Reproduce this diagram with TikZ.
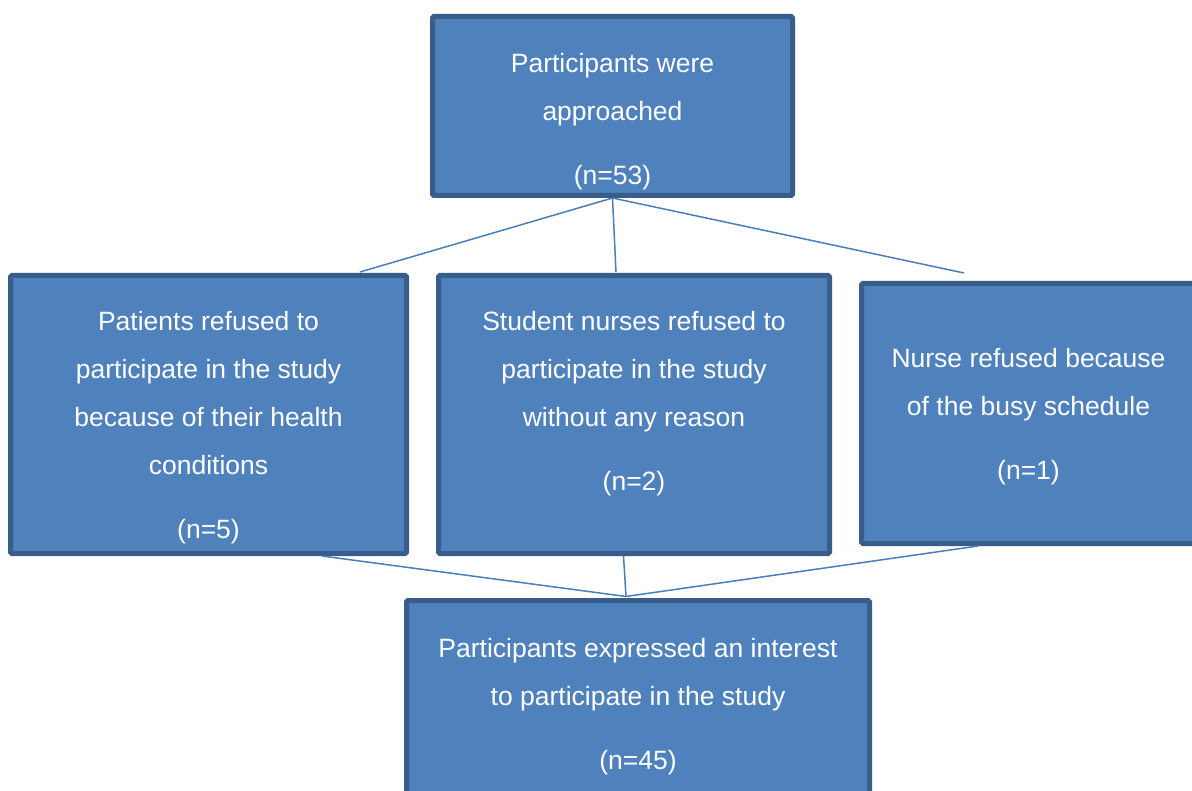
\documentclass[tikz,border=0pt]{standalone}
\usepackage{fontspec}
\setmainfont{Liberation Sans}
\definecolor{boxfill}{HTML}{4F81BD}
\definecolor{boxedge}{HTML}{385D8A}
\definecolor{linkcol}{HTML}{4A7EBB}
\tikzset{
  flowbox/.style={draw=boxedge, fill=boxfill, line width=5pt, rounded corners=1.5pt,
    inner sep=0pt, rectangle},
  boxtext/.style={anchor=north, inner sep=0pt, align=center, text=white,
    font=\fontsize{26.5}{48}\selectfont},
  link/.style={draw=linkcol, line width=1.5pt}
}
\newcommand{\firstline}{\rule{0pt}{21pt}}
\begin{document}
\begin{tikzpicture}[x=1pt, y=-1pt]
\useasboundingbox (0,0) rectangle (1192,791);
\clip (0,0) rectangle (1192,791);

% boxes
\node[flowbox, minimum width=360pt, minimum height=179pt] (top) at (612.5,106) {};
\node[flowbox, minimum width=396pt, minimum height=278pt] (left) at (208.5,414.5) {};
\node[flowbox, minimum width=391pt, minimum height=278pt] (mid) at (634,414.5) {};
\node[flowbox, minimum width=334pt, minimum height=260pt] (right) at (1028.5,413.5) {};
\node[flowbox, minimum width=463pt, minimum height=227pt] (bottom) at (638,714) {};

% texts
\node[boxtext] (ttop) at ([yshift=-37.5pt]top.north)
  {\firstline Participants were\\approached\\[16pt](n=53)};
\node[boxtext] (tleft) at ([yshift=-36.5pt]left.north)
  {\firstline Patients refused to\\participate in the study\\because of their health\\conditions\\[16pt](n=5)};
\node[boxtext] (tmid) at ([yshift=-36.5pt]mid.north)
  {\firstline Student nurses refused to\\participate in the study\\without any reason\\[16pt](n=2)};
\node[boxtext] (tright) at ([yshift=-65.5pt]right.north)
  {\firstline Nurse refused because\\of the busy schedule\\[16pt](n=1)};
\node[boxtext] (tbottom) at ([yshift=-38.5pt]bottom.north)
  {\firstline Participants expressed an interest\\to participate in the study\\[16pt](n=45)};

% connector ends
\coordinate (leftin)   at ([xshift=151.5pt,yshift=1pt]left.north);
\coordinate (midin)    at ([xshift=-18pt,yshift=1pt]mid.north);
\coordinate (rightin)  at ([xshift=-64.5pt,yshift=8pt]right.north);
\coordinate (leftout)  at ([xshift=113.5pt]left.south);
\coordinate (midout)   at ([xshift=-10.5pt]mid.south);
\coordinate (rightout) at ([xshift=-50.5pt]right.south);
\coordinate (bottomin) at ([xshift=-12pt,yshift=1.5pt]bottom.north);

% connectors
\draw[link] (top.south) -- (leftin);
\draw[link] (top.south) -- (midin);
\draw[link] (top.south) -- (rightin);
\draw[link] (leftout) -- (bottomin);
\draw[link] (midout) -- (bottomin);
\draw[link] (rightout) -- (bottomin);
\end{tikzpicture}
\end{document}
